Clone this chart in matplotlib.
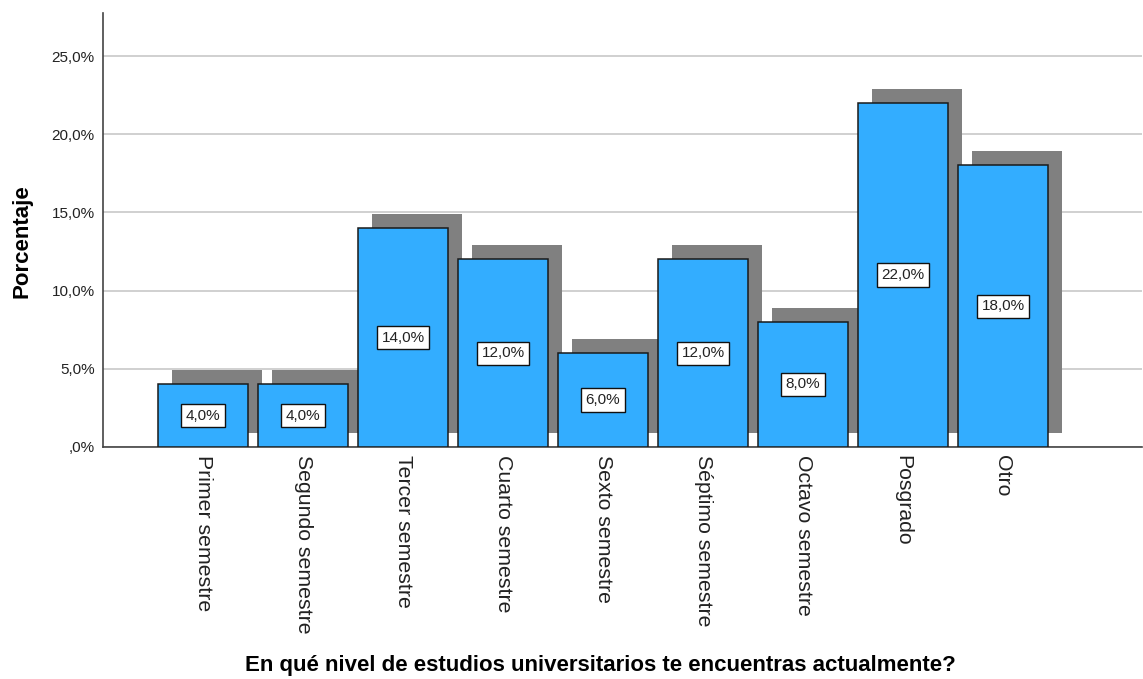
import matplotlib
matplotlib.use('Agg')
import matplotlib.pyplot as plt
import matplotlib.transforms as mtransforms

plt.rcParams['font.family'] = ['Liberation Sans', 'DejaVu Sans']

categories = ['Primer semestre', 'Segundo semestre', 'Tercer semestre',
              'Cuarto semestre', 'Sexto semestre', 'Séptimo semestre',
              'Octavo semestre', 'Posgrado', 'Otro']
percentages = [4.0, 4.0, 14.0, 12.0, 6.0, 12.0, 8.0, 22.0, 18.0]
yticks = [0, 5, 10, 15, 20, 25]
ytick_labels = [',0%', '5,0%', '10,0%', '15,0%', '20,0%', '25,0%']

BAR_COLOR = '#33adff'
SHADOW_COLOR = '#808080'
TEXT_COLOR = '#222222'

fig = plt.figure(figsize=(11.43, 6.79), dpi=100)
ax = fig.add_axes([103 / 1143, 1 - 447 / 679, 1039 / 1143, 434 / 679])

xs = list(range(len(categories)))

# drop shadow: same bars shifted up/right by a few pixels
shadow_tr = mtransforms.offset_copy(ax.transData, fig=fig, x=14, y=14, units='dots')
ax.bar(xs, percentages, width=0.9, color=SHADOW_COLOR, linewidth=0,
       transform=shadow_tr, zorder=2)
ax.bar(xs, percentages, width=0.9, color=BAR_COLOR, edgecolor='#1a1a1a',
       linewidth=1.1, zorder=3)

for x, v in zip(xs, percentages):
    ax.text(x, v / 2, f'{v:.1f}%'.replace('.', ','), ha='center', va='center',
            fontsize=11, color=TEXT_COLOR, zorder=4,
            bbox=dict(boxstyle='square,pad=0.3', facecolor='white',
                      edgecolor='#111111', linewidth=1))

ax.set_xlim(-1.0, 9.39)
ax.set_ylim(0, 27.75)
ax.set_yticks(yticks)
ax.set_yticklabels(ytick_labels, fontsize=11, color=TEXT_COLOR)
ax.set_xticks(xs)
ax.set_xticklabels(categories, rotation=270, fontsize=15.3, color=TEXT_COLOR,
                   ha='center', va='top')
ax.tick_params(axis='both', length=0)
ax.tick_params(axis='y', pad=6)
ax.tick_params(axis='x', pad=6)

ax.yaxis.grid(True, color='#c8c8c8', linewidth=1.2, zorder=0)
ax.set_axisbelow(True)

for side in ('top', 'right'):
    ax.spines[side].set_visible(False)
for side in ('left', 'bottom'):
    ax.spines[side].set_color('#444444')
    ax.spines[side].set_linewidth(1.2)

fig.text(22 / 1143, 1 - 241 / 679, 'Porcentaje', rotation=90,
         ha='center', va='center', fontsize=16, fontweight='bold')
fig.text(600 / 1143, 1 - 666 / 679,
         'En qué nivel de estudios universitarios te encuentras actualmente?',
         ha='center', va='center', fontsize=16, fontweight='bold')

fig.savefig('out.png', dpi=100)
